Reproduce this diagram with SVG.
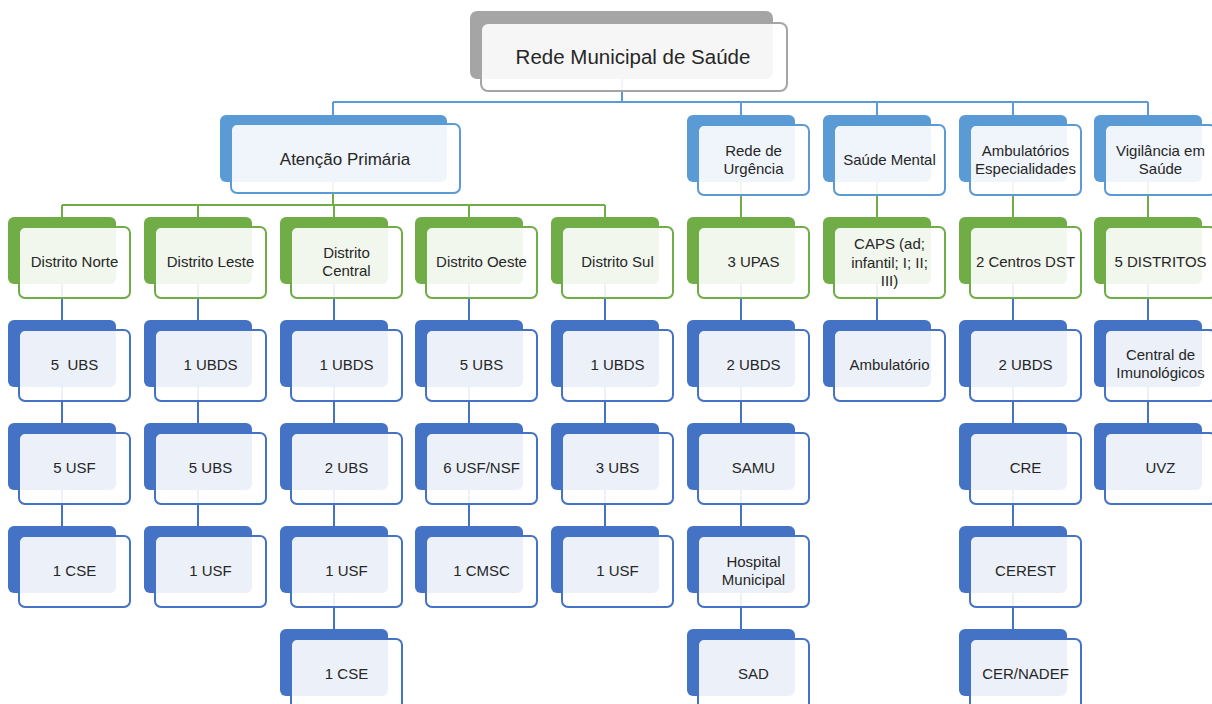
<svg xmlns="http://www.w3.org/2000/svg" width="1212" height="704" viewBox="0 0 1212 704">
<style>
.bg{fill:#ffffff}
.bk{stroke:none}
.g0{fill:#a5a5a5}.g1{fill:#5b9bd5}.g2{fill:#70ad47}.g3{fill:#4472c4}
.fr{fill:#ffffff;fill-opacity:0.9;stroke-width:2}
.s0{stroke:#a5a5a5}.s1{stroke:#5b9bd5}.s2{stroke:#70ad47}.s3{stroke:#4472c4}
.ln{fill:none;stroke-width:2}
text{font-family:"Liberation Sans",Arial,sans-serif;font-size:15px;fill:#262626;text-anchor:middle;white-space:pre}
.big{font-size:20.5px}
.mid{font-size:17px}
</style>
<rect class="bg" x="0" y="0" width="1212" height="704"/>
<g id="connectors">
<path class="ln s1" d="M622 79V102M333 102H1148M333 102V115M741 102V115M877 102V115M1013 102V115M1148 102V115"/>
<path class="ln s2" d="M333 182V205M62 205H605M62 205V217M198 205V217M334 205V217M469 205V217M605 205V217"/>
<path class="ln s2" d="M741 182V217M877 182V217M1013 182V217M1148 182V217"/>
<path class="ln s3" d="M62 284V526M198 284V526M334 284V629M469 284V526M605 284V526M741 284V629M877 284V320M1013 284V629M1148 284V423"/>
</g>
<g id="n-rede">
<rect class="bk g0" x="470" y="11" width="303" height="68" rx="7"/>
<rect class="fr s0" x="481" y="23" width="306" height="68" rx="7"/>
<text class="big" x="633" y="64">Rede Municipal de Saúde</text>
</g>
<g id="n-atencao">
<rect class="bk g1" x="220" y="115" width="227" height="67" rx="6"/>
<rect class="fr s1" x="231" y="124" width="229" height="69" rx="6"/>
<text class="mid" x="345" y="165">Atenção Primária</text>
</g>
<g id="n-urgencia">
<rect class="bk g1" x="687" y="115" width="108" height="67" rx="6"/>
<rect class="fr s1" x="698" y="125" width="111" height="70" rx="6"/>
<text x="753.5" y="156">Rede de</text><text x="753.5" y="174">Urgência</text>
</g>
<g id="n-mental">
<rect class="bk g1" x="823" y="115" width="108" height="67" rx="6"/>
<rect class="fr s1" x="834" y="125" width="111" height="70" rx="6"/>
<text x="889.5" y="165">Saúde Mental</text>
</g>
<g id="n-ambesp">
<rect class="bk g1" x="959" y="115" width="108" height="67" rx="6"/>
<rect class="fr s1" x="970" y="125" width="111" height="70" rx="6"/>
<text x="1025.5" y="156">Ambulatórios</text><text x="1025.5" y="174">Especialidades</text>
</g>
<g id="n-vigilancia">
<rect class="bk g1" x="1094" y="115" width="108" height="67" rx="6"/>
<rect class="fr s1" x="1105" y="125" width="111" height="70" rx="6"/>
<text x="1160.5" y="156">Vigilância em</text><text x="1160.5" y="174">Saúde</text>
</g>
<g id="n-norte"><rect class="bk g2" x="8" y="217" width="108" height="67" rx="6"/><rect class="fr s2" x="19" y="227" width="111" height="71" rx="6"/><text x="74.5" y="267">Distrito Norte</text></g>
<g id="n-leste"><rect class="bk g2" x="144" y="217" width="108" height="67" rx="6"/><rect class="fr s2" x="155" y="227" width="111" height="71" rx="6"/><text x="210.5" y="267">Distrito Leste</text></g>
<g id="n-central"><rect class="bk g2" x="280" y="217" width="108" height="67" rx="6"/><rect class="fr s2" x="291" y="227" width="111" height="71" rx="6"/><text x="346.5" y="258">Distrito</text><text x="346.5" y="276">Central</text></g>
<g id="n-oeste"><rect class="bk g2" x="415" y="217" width="108" height="67" rx="6"/><rect class="fr s2" x="426" y="227" width="111" height="71" rx="6"/><text x="481.5" y="267">Distrito Oeste</text></g>
<g id="n-sul"><rect class="bk g2" x="551" y="217" width="108" height="67" rx="6"/><rect class="fr s2" x="562" y="227" width="111" height="71" rx="6"/><text x="617.5" y="267">Distrito Sul</text></g>
<g id="n-upas"><rect class="bk g2" x="687" y="217" width="108" height="67" rx="6"/><rect class="fr s2" x="698" y="227" width="111" height="71" rx="6"/><text x="753.5" y="267">3 UPAS</text></g>
<g id="n-caps"><rect class="bk g2" x="823" y="217" width="108" height="67" rx="6"/><rect class="fr s2" x="834" y="227" width="111" height="71" rx="6"/><text x="889.5" y="249">CAPS (ad;</text><text x="889.5" y="267.5">infantil; I; II;</text><text x="889.5" y="286">III)</text></g>
<g id="n-dst"><rect class="bk g2" x="959" y="217" width="108" height="67" rx="6"/><rect class="fr s2" x="970" y="227" width="111" height="71" rx="6"/><text x="1025.5" y="267">2 Centros DST</text></g>
<g id="n-distritos"><rect class="bk g2" x="1094" y="217" width="108" height="67" rx="6"/><rect class="fr s2" x="1105" y="227" width="111" height="71" rx="6"/><text x="1160.5" y="267">5 DISTRITOS</text></g>
<g id="n-c0r3"><rect class="bk g3" x="8" y="320" width="108" height="67" rx="6"/><rect class="fr s3" x="19" y="330" width="111" height="71" rx="6"/><text x="74.5" y="370">5  UBS</text></g>
<g id="n-c0r4"><rect class="bk g3" x="8" y="423" width="108" height="67" rx="6"/><rect class="fr s3" x="19" y="433" width="111" height="71" rx="6"/><text x="74.5" y="473">5 USF</text></g>
<g id="n-c0r5"><rect class="bk g3" x="8" y="526" width="108" height="67" rx="6"/><rect class="fr s3" x="19" y="536" width="111" height="71" rx="6"/><text x="74.5" y="576">1 CSE</text></g>
<g id="n-c1r3"><rect class="bk g3" x="144" y="320" width="108" height="67" rx="6"/><rect class="fr s3" x="155" y="330" width="111" height="71" rx="6"/><text x="210.5" y="370">1 UBDS</text></g>
<g id="n-c1r4"><rect class="bk g3" x="144" y="423" width="108" height="67" rx="6"/><rect class="fr s3" x="155" y="433" width="111" height="71" rx="6"/><text x="210.5" y="473">5 UBS</text></g>
<g id="n-c1r5"><rect class="bk g3" x="144" y="526" width="108" height="67" rx="6"/><rect class="fr s3" x="155" y="536" width="111" height="71" rx="6"/><text x="210.5" y="576">1 USF</text></g>
<g id="n-c2r3"><rect class="bk g3" x="280" y="320" width="108" height="67" rx="6"/><rect class="fr s3" x="291" y="330" width="111" height="71" rx="6"/><text x="346.5" y="370">1 UBDS</text></g>
<g id="n-c2r4"><rect class="bk g3" x="280" y="423" width="108" height="67" rx="6"/><rect class="fr s3" x="291" y="433" width="111" height="71" rx="6"/><text x="346.5" y="473">2 UBS</text></g>
<g id="n-c2r5"><rect class="bk g3" x="280" y="526" width="108" height="67" rx="6"/><rect class="fr s3" x="291" y="536" width="111" height="71" rx="6"/><text x="346.5" y="576">1 USF</text></g>
<g id="n-c2r6"><rect class="bk g3" x="280" y="629" width="108" height="67" rx="6"/><rect class="fr s3" x="291" y="639" width="111" height="71" rx="6"/><text x="346.5" y="679">1 CSE</text></g>
<g id="n-c3r3"><rect class="bk g3" x="415" y="320" width="108" height="67" rx="6"/><rect class="fr s3" x="426" y="330" width="111" height="71" rx="6"/><text x="481.5" y="370">5 UBS</text></g>
<g id="n-c3r4"><rect class="bk g3" x="415" y="423" width="108" height="67" rx="6"/><rect class="fr s3" x="426" y="433" width="111" height="71" rx="6"/><text x="481.5" y="473">6 USF/NSF</text></g>
<g id="n-c3r5"><rect class="bk g3" x="415" y="526" width="108" height="67" rx="6"/><rect class="fr s3" x="426" y="536" width="111" height="71" rx="6"/><text x="481.5" y="576">1 CMSC</text></g>
<g id="n-c4r3"><rect class="bk g3" x="551" y="320" width="108" height="67" rx="6"/><rect class="fr s3" x="562" y="330" width="111" height="71" rx="6"/><text x="617.5" y="370">1 UBDS</text></g>
<g id="n-c4r4"><rect class="bk g3" x="551" y="423" width="108" height="67" rx="6"/><rect class="fr s3" x="562" y="433" width="111" height="71" rx="6"/><text x="617.5" y="473">3 UBS</text></g>
<g id="n-c4r5"><rect class="bk g3" x="551" y="526" width="108" height="67" rx="6"/><rect class="fr s3" x="562" y="536" width="111" height="71" rx="6"/><text x="617.5" y="576">1 USF</text></g>
<g id="n-c5r3"><rect class="bk g3" x="687" y="320" width="108" height="67" rx="6"/><rect class="fr s3" x="698" y="330" width="111" height="71" rx="6"/><text x="753.5" y="370">2 UBDS</text></g>
<g id="n-c5r4"><rect class="bk g3" x="687" y="423" width="108" height="67" rx="6"/><rect class="fr s3" x="698" y="433" width="111" height="71" rx="6"/><text x="753.5" y="473">SAMU</text></g>
<g id="n-c5r5"><rect class="bk g3" x="687" y="526" width="108" height="67" rx="6"/><rect class="fr s3" x="698" y="536" width="111" height="71" rx="6"/><text x="753.5" y="567">Hospital</text><text x="753.5" y="585">Municipal</text></g>
<g id="n-c5r6"><rect class="bk g3" x="687" y="629" width="108" height="67" rx="6"/><rect class="fr s3" x="698" y="639" width="111" height="71" rx="6"/><text x="753.5" y="679">SAD</text></g>
<g id="n-c6r3"><rect class="bk g3" x="823" y="320" width="108" height="67" rx="6"/><rect class="fr s3" x="834" y="330" width="111" height="71" rx="6"/><text x="889.5" y="370">Ambulatório</text></g>
<g id="n-c7r3"><rect class="bk g3" x="959" y="320" width="108" height="67" rx="6"/><rect class="fr s3" x="970" y="330" width="111" height="71" rx="6"/><text x="1025.5" y="370">2 UBDS</text></g>
<g id="n-c7r4"><rect class="bk g3" x="959" y="423" width="108" height="67" rx="6"/><rect class="fr s3" x="970" y="433" width="111" height="71" rx="6"/><text x="1025.5" y="473">CRE</text></g>
<g id="n-c7r5"><rect class="bk g3" x="959" y="526" width="108" height="67" rx="6"/><rect class="fr s3" x="970" y="536" width="111" height="71" rx="6"/><text x="1025.5" y="576">CEREST</text></g>
<g id="n-c7r6"><rect class="bk g3" x="959" y="629" width="108" height="67" rx="6"/><rect class="fr s3" x="970" y="639" width="111" height="71" rx="6"/><text x="1025.5" y="679">CER/NADEF</text></g>
<g id="n-c8r3"><rect class="bk g3" x="1094" y="320" width="108" height="67" rx="6"/><rect class="fr s3" x="1105" y="330" width="111" height="71" rx="6"/><text x="1160.5" y="360">Central de</text><text x="1160.5" y="378">Imunológicos</text></g>
<g id="n-c8r4"><rect class="bk g3" x="1094" y="423" width="108" height="67" rx="6"/><rect class="fr s3" x="1105" y="433" width="111" height="71" rx="6"/><text x="1160.5" y="473">UVZ</text></g>
</svg>
